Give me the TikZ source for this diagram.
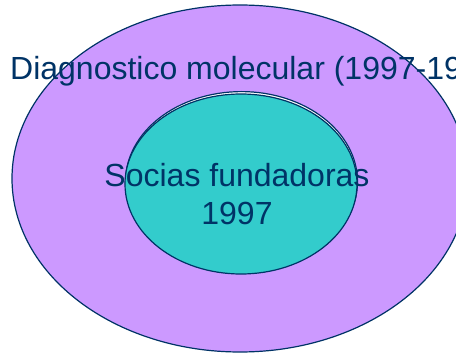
\documentclass[tikz,border=0pt]{standalone}
\usepackage{fontspec}
\setmainfont{Liberation Sans}
\definecolor{navy}{HTML}{003366}
\definecolor{lilac}{HTML}{CC99FF}
\definecolor{tealc}{HTML}{33CCCC}
\begin{document}
\begin{tikzpicture}[x=1pt,y=-1pt,
  ring/.style={draw=navy,line width=1.2pt},
  lbl/.style={text=navy,font=\fontsize{32}{38}\selectfont,inner sep=0pt}]
\useasboundingbox (0,0) rectangle (456,353);
\clip (0,0) rectangle (456,353);
\fill[white] (0,0) rectangle (456,353);
\draw[ring,fill=lilac] (240,178.5) ellipse [x radius=228, y radius=173.5];
\draw[ring,fill=white] (241.5,181.6) ellipse [x radius=116, y radius=90];
\draw[ring,fill=tealc] (241,184) ellipse [x radius=116, y radius=90];
\node[lbl,anchor=base west] (outer) at (10,80) {Diagnostico molecular (1997-19};
\node[lbl,anchor=base] (inner1) at (237,186) {Socias fundadoras};
\node[lbl,anchor=base] (inner2) at (237,224) {1997};
\end{tikzpicture}
\end{document}
